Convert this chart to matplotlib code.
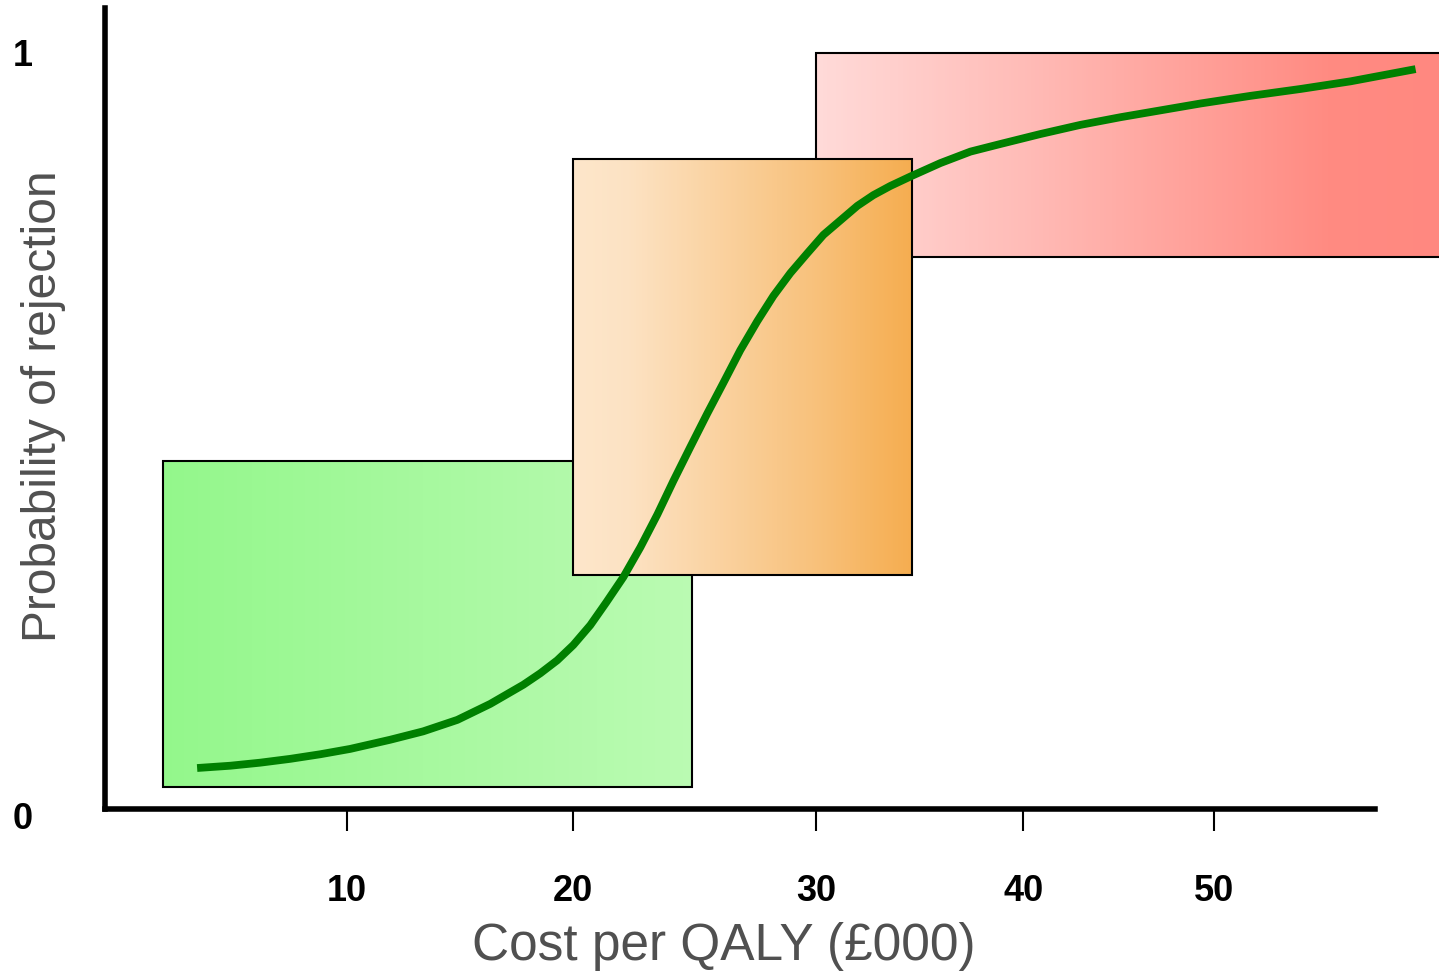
import numpy as np
import matplotlib
matplotlib.use("Agg")
import matplotlib.pyplot as plt
from matplotlib.colors import LinearSegmentedColormap
from matplotlib.patches import Rectangle

plt.rcParams['font.family'] = ['Liberation Sans', 'DejaVu Sans']

# curve: probability of rejection vs cost per QALY (in £000)
cost = [3.39, 4.85, 6.17, 7.49, 8.81, 10.13, 11.90, 13.36, 14.87, 16.33, 17.79,
        18.54, 19.29, 20.00, 20.70, 21.36, 22.06, 22.76, 23.46, 24.12, 24.81,
        25.51, 26.17, 26.87, 27.57, 28.23, 28.93, 29.63, 30.34, 31.16, 31.98,
        32.75, 33.57, 34.59, 35.99, 37.44, 38.89, 40.89, 43.0, 45.1, 47.21,
        49.32, 51.95, 54.58, 57.21, 60.63]
prob = [0.053, 0.056, 0.060, 0.065, 0.071, 0.078, 0.090, 0.101, 0.116, 0.137,
        0.162, 0.177, 0.194, 0.214, 0.240, 0.270, 0.303, 0.342, 0.385, 0.429,
        0.473, 0.517, 0.557, 0.600, 0.638, 0.671, 0.701, 0.727, 0.751, 0.770,
        0.789, 0.803, 0.815, 0.828, 0.845, 0.860, 0.870, 0.883, 0.895, 0.905,
        0.914, 0.923, 0.933, 0.942, 0.952, 0.968]

# shaded zones (green = accept, orange = borderline, red = reject)
zone_x0 = [1.9, 20.0, 30.0]
zone_x1 = [24.9, 34.6, 62.0]
zone_y0 = [0.028, 0.306, 0.722]
zone_y1 = [0.455, 0.850, 0.989]

x_ticks = [10, 20, 30, 40, 50]
y_ticks = [0, 1]
y_labels = ['0', '1']

# gradient colours for each zone, left -> right
zone_colors = [
    [(0, '#93f78b'), (1, '#bafab2')],
    [(0, '#fde6ca'), (0.15, '#fce2c3'), (1, '#f5ad50')],
    [(0, '#ffdad8'), (0.82, '#ff8a81'), (1, '#ff8880')],
]
zone_z = [1, 3, 2]

# the original drawing has uneven tick spacing -> piecewise linear scale
scale_vals = [-50, 0, 10, 20, 30, 40, 50, 60, 120]
scale_pos = [-1013, 120, 347, 573, 816, 1023, 1213, 1403, 2545]


def fwd(v):
    return np.interp(v, scale_vals, scale_pos)


def inv(p):
    return np.interp(p, scale_pos, scale_vals)


fig = plt.figure(figsize=(14.39, 9.72), dpi=100)
ax = fig.add_axes([104.5 / 1439, (972 - 808.5) / 972, 1 - 104.5 / 1439, 800.5 / 972])
ax.set_xscale('function', functions=(fwd, inv))
ax.set_xlim(-0.69, 61.86)
ax.set_ylim(0, 1.048)

# gradient boxes
for x0, x1, y0, y1, cols, z in zip(zone_x0, zone_x1, zone_y0, zone_y1, zone_colors, zone_z):
    cmap = LinearSegmentedColormap.from_list('zone', cols)
    xs = np.linspace(x0, x1, 300)
    ax.pcolormesh(xs, [y0, y1], np.linspace(0, 1, 299)[None, :], cmap=cmap,
                  shading='flat', edgecolors='none', zorder=z)
    ax.add_patch(Rectangle((x0, y0), x1 - x0, y1 - y0, fill=False,
                           ec='black', lw=1.5, zorder=z))

ax.plot(cost, prob, color='#008000', lw=5.6, solid_joinstyle='round',
        solid_capstyle='butt', zorder=5)

# axes styling
for s in ['top', 'right']:
    ax.spines[s].set_visible(False)
ax.spines['left'].set_linewidth(4)
ax.spines['bottom'].set_linewidth(4)
ax.spines['bottom'].set_bounds(-0.69, 58.5)

ax.set_xticks(x_ticks)
ax.set_xticklabels([str(t) for t in x_ticks], fontsize=26, fontweight='bold')
ax.tick_params(axis='x', length=16, width=1.5, pad=31, direction='out')
ax.set_yticks([])
for v, s in zip(y_ticks, y_labels):
    ax.text(-0.054, v - 0.015, s, transform=ax.get_yaxis_transform(),
            ha='right', va='center', fontsize=26, fontweight='bold')

ax.set_xlabel('Cost per QALY (£000)', fontsize=37, color='#505050', va='baseline')
ax.xaxis.set_label_coords(0.4638, -0.1893)
ax.set_ylabel('Probability of rejection', fontsize=34.5, color='#505050', va='center')
ax.yaxis.set_label_coords(-0.0455, 0.503)

fig.savefig('out.png', dpi=100)
